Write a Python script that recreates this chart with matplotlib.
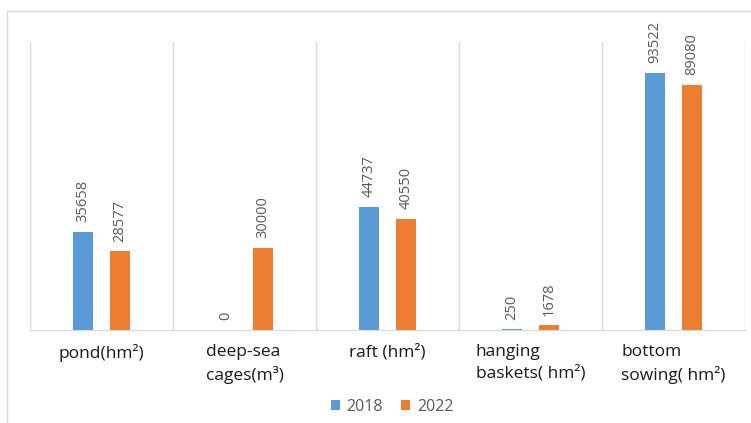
import numpy as np
import matplotlib
matplotlib.use("Agg")
import matplotlib.pyplot as plt
from matplotlib.patches import Rectangle

plt.rcParams['font.family'] = ['Open Sans', 'DejaVu Sans']

categories = ["pond(hm²)", "deep-sea\ncages(m³)", "raft (hm²)",
              "hanging\nbaskets( hm²)", "bottom\nsowing( hm²)"]
values_2018 = [35658, 0, 44737, 250, 93522]
values_2022 = [28577, 30000, 40550, 1678, 89080]
years = ["2018", "2022"]

blue = "#5B9BD5"
orange = "#ED7D31"
grid_c = "#D9D9D9"
label_c = "#595959"

fig = plt.figure(figsize=(7.51, 4.23), dpi=100)
ax = fig.add_axes([30 / 751, 1 - 330 / 423, 715 / 751, 288 / 423])

x = np.arange(len(categories))
w = 0.14
off = 0.13
b1 = ax.bar(x - off, values_2018, w, color=blue, label=years[0])
b2 = ax.bar(x + off, values_2022, w, color=orange, label=years[1])

for bars in (b1, b2):
    for rect in bars:
        h = rect.get_height()
        ax.annotate(f"{int(h)}", (rect.get_x() + rect.get_width() / 2, h),
                    xytext=(0, 7), textcoords="offset points",
                    rotation=90, ha="center", va="bottom",
                    fontsize=10.5, color=label_c)

ax.set_xlim(-0.5, len(categories) - 0.5)
ax.set_ylim(0, 104800)

# category separators
for b in np.arange(-0.5, len(categories), 1.0):
    ax.axvline(b, color=grid_c, lw=1, zorder=0)

for s in ["top", "left", "right"]:
    ax.spines[s].set_visible(False)
ax.spines["bottom"].set_color(grid_c)
ax.set_yticks([])
ax.set_xticks([])

for i, c in enumerate(categories):
    ax.text(i, -0.05, c, transform=ax.get_xaxis_transform(), ha="center",
            va="top", multialignment="left", fontsize=12.5, color="#1a1a1a",
            linespacing=1.4)

leg = fig.legend(loc="center", bbox_to_anchor=(392 / 751, 1 - 407 / 423),
                 ncol=2, frameon=False, fontsize=11.5, handlelength=0.6,
                 handleheight=0.6, columnspacing=1.1, handletextpad=0.4)
for t in leg.get_texts():
    t.set_color(label_c)

fig.patches.append(Rectangle((7 / 751, -0.01), 1.0, 1 - 11 / 423 + 0.01,
                             transform=fig.transFigure, fill=False,
                             edgecolor=grid_c, lw=1))

fig.savefig("out.png", dpi=100)
